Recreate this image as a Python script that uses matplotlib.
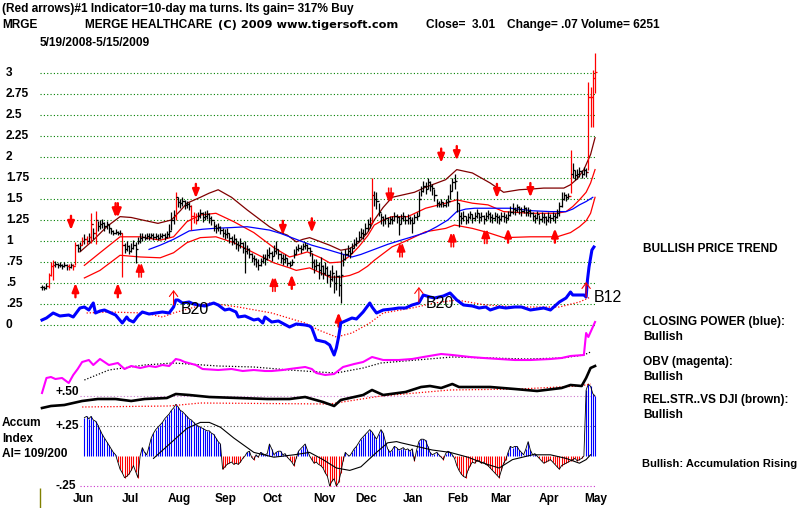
import matplotlib
matplotlib.use('Agg')
import matplotlib.pyplot as plt
import numpy as np
from matplotlib.transforms import blended_transform_factory

# ---------------- DATA ----------------
closes = [.45,.44,.47,.60,.70,.72,.73,.71,.72,.70,
          .72,.70,.69,.71,.70,.95,.92,.95,1.0,1.02,
          1.0,1.05,1.2,1.1,1.25,1.18,1.2,1.22,1.18,1.2,
          1.15,1.12,1.1,1.11,1.09,1.1,.95,.9,.94,.88,
          .92,.95,.9,1.0,1.03,1.05,1.04,1.06,1.05,1.07,
          1.05,1.06,1.04,1.06,1.07,1.05,1.08,1.12,1.25,1.3,
          1.52,1.47,1.45,1.48,1.43,1.44,1.42,1.3,1.28,1.25,
          1.3,1.33,1.28,1.3,1.32,1.27,1.25,1.18,1.15,1.17,
          1.13,1.1,1.08,1.1,1.03,1.0,1.02,.97,.95,.98,
          .92,.88,.9,.85,.8,.78,.75,.72,.76,.8,
          .78,.83,.86,.82,.88,.9,.84,.8,.78,.8,
          .74,.72,.75,.85,.9,.92,.9,.94,.95,.92,
          .88,.75,.7,.72,.66,.7,.62,.68,.6,.55,
          .62,.5,.58,.48,.6,.78,.84,.88,.86,.92,
          .97,1.0,1.05,1.1,1.08,1.15,1.2,1.22,1.55,1.5,
          1.48,1.35,1.28,1.25,1.27,1.22,1.26,1.25,1.3,1.28,
          1.2,1.27,1.3,1.25,1.27,1.25,1.22,1.28,1.3,1.5,
          1.6,1.65,1.62,1.7,1.66,1.63,1.55,1.45,1.44,1.47,
          1.43,1.46,1.48,1.6,1.7,1.72,1.45,1.3,1.27,1.3,
          1.25,1.28,1.32,1.27,1.3,1.33,1.28,1.3,1.26,1.3,
          1.32,1.29,1.27,1.3,1.28,1.26,1.3,1.29,1.27,1.31,
          1.35,1.38,1.37,1.4,1.38,1.36,1.39,1.35,1.36,1.33,
          1.3,1.27,1.32,1.26,1.29,1.28,1.25,1.29,1.27,1.3,
          1.28,1.33,1.42,1.5,1.55,1.52,1.54,1.8,1.85,1.78,
          1.8,1.83,1.8,1.84,1.82,2.72,2.71,2.94,3.01]
highs = [.48,.47,.50,.62,.75,.77,.76,.74,.75,.73,
         .75,.73,.73,.74,.73,.99,.97,.99,1.05,1.08,
         1.06,1.1,1.33,1.15,1.36,1.24,1.25,1.26,1.23,1.24,
         1.2,1.16,1.13,1.14,1.12,1.13,1.1,.98,1.0,.95,
         .98,1.01,.99,1.05,1.1,1.09,1.08,1.1,1.09,1.1,
         1.09,1.1,1.08,1.1,1.1,1.09,1.12,1.2,1.35,1.37,
         1.58,1.52,1.5,1.52,1.49,1.48,1.46,1.43,1.35,1.33,
         1.35,1.38,1.34,1.36,1.37,1.33,1.3,1.24,1.2,1.21,
         1.18,1.15,1.14,1.15,1.1,1.06,1.08,1.03,1.0,1.03,
         .99,1.0,.95,.92,.86,.83,.8,.78,.8,.85,
         .84,.9,.93,.88,.95,1.0,.9,.86,.84,.85,
         .8,.76,.78,.9,.94,.96,.95,.98,.99,.96,
         .93,.86,.78,.78,.75,.81,.72,.75,.7,.65,
         .72,.6,.66,.6,.88,.85,.9,.95,.93,.98,
         1.02,1.05,1.12,1.16,1.14,1.22,1.26,1.28,1.75,1.6,
         1.58,1.45,1.33,1.3,1.32,1.28,1.3,1.3,1.34,1.32,
         1.3,1.32,1.35,1.3,1.32,1.3,1.28,1.32,1.35,1.6,
         1.66,1.72,1.7,1.75,1.72,1.68,1.62,1.5,1.48,1.5,
         1.47,1.5,1.55,1.68,1.75,1.8,1.6,1.45,1.35,1.36,
         1.3,1.33,1.36,1.32,1.35,1.38,1.33,1.35,1.31,1.35,
         1.37,1.34,1.32,1.35,1.33,1.31,1.35,1.34,1.32,1.36,
         1.42,1.45,1.41,1.44,1.42,1.4,1.43,1.4,1.4,1.38,
         1.35,1.32,1.36,1.31,1.34,1.33,1.3,1.34,1.32,1.35,
         1.33,1.38,1.47,1.58,1.58,1.56,1.57,2.08,1.93,1.85,
         1.86,1.88,1.85,1.88,1.87,2.89,2.83,3.03,3.24]
lows = [.42,.42,.43,.44,.58,.54,.69,.68,.69,.67,
        .69,.66,.65,.68,.66,.71,.87,.88,.95,.97,
        .96,.99,.98,1.02,.97,1.12,1.14,1.16,1.12,1.14,
        1.1,1.08,1.07,1.08,1.07,1.07,.57,.86,.88,.84,
        .87,.9,.74,.96,.98,1.0,1.01,1.02,1.01,1.03,
        1.01,1.02,1.01,1.02,1.03,1.01,1.04,1.05,1.13,1.2,
        1.25,1.4,1.39,1.42,1.38,1.39,1.37,1.13,1.21,1.2,
        1.25,1.27,1.23,1.25,1.26,1.22,1.19,1.12,1.1,1.12,
        1.08,1.05,1.02,1.03,.98,.95,.96,.9,.88,.92,
        .86,.62,.84,.8,.75,.72,.69,.66,.7,.74,
        .72,.77,.8,.76,.82,.84,.78,.74,.72,.74,
        .7,.69,.71,.8,.85,.88,.86,.89,.91,.88,
        .82,.68,.62,.65,.55,.6,.55,.6,.5,.45,
        .52,.38,.42,.35,.26,.7,.77,.82,.8,.86,
        .92,.94,1.0,1.03,1.02,1.08,1.12,1.15,1.21,1.42,
        1.38,1.3,1.2,1.18,1.2,1.17,1.2,1.2,1.24,1.22,
        1.07,1.2,1.24,1.2,1.2,1.2,1.1,1.22,1.25,1.3,
        1.53,1.58,1.56,1.62,1.6,1.55,1.48,1.4,1.4,1.41,
        1.4,1.41,1.42,1.5,1.6,1.62,1.35,1.17,1.2,1.24,
        1.2,1.22,1.26,1.22,1.24,1.27,1.22,1.24,1.2,1.24,
        1.26,1.23,1.21,1.24,1.22,1.2,1.24,1.23,1.21,1.25,
        1.3,1.32,1.31,1.34,1.32,1.3,1.33,1.3,1.3,1.28,
        1.24,1.21,1.26,1.2,1.23,1.22,1.19,1.23,1.21,1.24,
        1.22,1.27,1.3,1.4,1.49,1.48,1.5,1.57,1.75,1.73,
        1.74,1.76,1.75,1.78,1.76,1.85,2.36,2.36,2.76]
red_bar_days = [3,4,5,12,14,15,18,20,22,24,36,60,67,68,69,148,237,245,246,247,248]

# bands (day, value)
brown_days = [17,20,23,29,35,40,45,52,58,62,
              65,71,75,79,85,92,97,102,106,110,
              114,117,120,125,129,134,138,142,146,149,
              153,157,162,167,172,177,181,186,193,197,
              201,207,214,220,225,230,234,237,240,243,
              246,248]
brown_vals = [.87,.94,1.01,1.17,1.29,1.28,1.25,1.21,1.25,1.36,
              1.45,1.52,1.57,1.61,1.52,1.37,1.27,1.17,1.11,1.07,
              .99,1.02,1.04,.99,.95,.89,.91,.98,1.1,1.25,
              1.4,1.52,1.55,1.58,1.64,1.69,1.73,1.85,1.81,1.75,
              1.69,1.58,1.61,1.62,1.63,1.63,1.63,1.67,1.74,1.85,
              2.03,2.23]
bandhi_days = [19,26,35,44,53,59,65,71,78,86,
               95,104,111,114,119,125,129,134,138,142,
               146,149,153,157,164,172,181,186,193,200,
               207,219,231,235,238,241,244,246,248]
bandhi_vals = [.71,.86,1.05,1.05,1.01,1.05,1.23,1.31,1.33,1.23,
               1.1,.92,.81,.83,.87,.8,.74,.75,.82,.93,
               1.06,1.19,1.25,1.29,1.29,1.39,1.45,1.49,1.45,1.43,
               1.35,1.33,1.33,1.35,1.41,1.49,1.58,1.69,1.85]
bandlo_days = [19,26,35,44,53,59,65,71,78,86,
               95,104,111,114,120,125,129,134,138,142,
               146,149,153,157,164,172,181,185,193,200,
               207,219,231,237,241,244,246,248]
bandlo_vals = [.56,.65,.83,.81,.8,.86,.98,1.04,1.05,.98,
               .86,.74,.68,.65,.68,.62,.57,.57,.59,.63,
               .7,.77,.85,.93,1.01,1.11,1.15,1.19,1.15,1.1,
               1.04,1.05,1.05,1.1,1.17,1.24,1.33,1.52]
ma_days = [48,53,59,66,72,77,85,92,97,102,
           107,111,116,121,125,129,134,139,143,146,
           150,155,161,166,172,177,182,186,190,194,
           202,210,220,228,235,238,241,244,247]
ma_vals = [.90,.95,1.02,1.12,1.14,1.15,1.16,1.17,1.15,1.13,
           1.09,1.05,1.0,.95,.92,.89,.85,.81,.84,.87,
           .91,.96,1.01,1.05,1.10,1.17,1.25,1.35,1.38,1.39,
           1.39,1.39,1.36,1.35,1.35,1.38,1.43,1.47,1.52]

sell_days = [13,33,34,69,108,121,156,179,186,204,219]
sell_tips = [1.13,1.28,1.28,1.51,1.07,1.10,1.46,1.93,1.96,1.51,1.52]
sell_double = [0,0,0,0,0,0,1,0,0,0,0]
buy_days = [15,34,44,104,112,133,161,184,199,209,230]
buy_tips = [.50,.50,.74,.57,.60,.15,.98,1.10,1.14,1.15,1.15]
buy_double = [0,0,1,1,0,0,1,1,1,0,0]

# Closing power (blue) and its MA
cp_days = [0,2,5,8,12,14,17,19,21,23,
           24,26,28,31,33,36,38,39,41,43,
           45,48,51,54,57,59,60,61,63,66,
           68,70,73,77,79,82,84,87,88,91,
           95,97,99,100,103,106,111,114,118,120,
           121,123,125,127,129,130,131,132,133,134,
           137,139,141,144,147,148,150,153,157,160,
           163,166,169,171,174,176,180,183,186,189,
           193,196,199,201,205,208,212,215,219,222,
           225,228,232,235,237,238,241,243,244,244.6,
           245.3,246.6,247.5]
cp_vals = [20,22,27,24,25,23,32,33,30,37,
           27,29,30,27,25,17,23,20,18,24,
           28,26,27,28,27,33,40,40,37,38,
           36,35,34,37,35,30,31,28,23,24,
           20,21,17,23,18,19,13,16,15,14,
           12,0,-1,-2,-5,-10,-15,-8,3,17,
           20,22,21,28,37,33,27,30,31,32,
           32,35,37,45,43,42,44,47,40,35,
           34,32,33,30,33,32,33,33,30,31,
           32,30,38,42,48,45,45,45,43,60,
           73,90,93]
cpma_days = [20,30,46,54,59,75,88,103,118,124,132,139,147,153,166,176,186,199,214,232,241,246]
cpma_vals = [27,28,27,23,27,37,33,27,17,10,3,7,17,27,32,37,40,35,33,33,38,43]
cp_sig_days = [59,169,244]
cp_sig_tips = [50,53,58]
cp_labels = ['B20','B20','B12']
cp_label_days = [62,172,247.5]
cp_label_vals = [30,37,42]

# OBV (magenta) and its MA
obv_days = [0,2,4,6,9,12,14,16,18,21,
            23,26,30,34,37,40,44,48,51,54,
            57,60,62,64,69,72,79,85,90,95,
            100,103,108,111,118,121,123,127,131,135,
            140,144,148,153,160,166,171,179,184,192,
            198,205,212,219,228,233,237,243,244,245,
            248]
obv_vals = [7,22,23,21,22,17,25,31,38,40,
            35,41,35,37,31,34,32,34,33,35,
            34,41,40,38,35,31,30,31,29,30,
            29,29,30,31,33,31,27,25,26,33,
            36,38,43,40,40,41,43,46,45,43,
            42,41,40,40,41,42,44,45,67,63,
            78]
obvma_days = [19,30,46,59,79,95,111,124,132,144,152,168,184,201,217,233,243,246]
obvma_vals = [20,30,35,37,34,33,30,28,27,32,37,40,43,42,41,42,45,48]

# Relative strength vs DJI (black) and its MA
rs_days = [0,4,10,18,25,33,40,46,56,60,66,75,88,101,111,118,126,131,134,144,148,153,163,170,174,179,184,187,201,212,222,233,237,242,244,246,248]
rs_vals = [12,14,15,19,21,21,19,21,22,26,25,23,22,21,21,23,18,14,20,25,30,25,28,33,34,32,36,33,33,31,29,32,35,34,42,52,54]
rsma_days = [18,57,71,129,152,183,214,241,246]
rsma_vals = [13,14,17,16,24,30,31,34,36]

# Accumulation index, days 19..248
ai_start = 19
ai_vals = [.32,.33,.31,.33,.30,.29,.26,.22,.18,.15,
           .12,.09,.06,.03,.01,-.05,-.11,-.14,-.18,-.17,
           -.15,-.12,-.08,-.13,-.18,0,.07,.03,.01,.08,
           .15,.19,.22,.24,.26,.28,.31,.33,.35,.38,
           .40,.43,.41,.38,.37,.35,.33,.31,.30,.28,
           .26,.25,.24,.23,.22,.21,.21,.19,.18,.15,
           .12,.10,-.11,-.09,-.07,-.06,-.05,-.07,-.06,-.07,
           -.05,-.02,0,.03,.04,-.01,-.03,.01,-.01,.03,
           .02,.01,.02,.10,.06,.01,.03,.04,.04,.01,
           .02,-.01,-.03,-.05,-.08,-.02,.04,.06,.08,.10,
           .05,0,-.03,-.06,-.05,-.07,-.08,-.10,-.14,-.17,
           -.25,-.21,-.19,-.25,-.22,-.14,-.04,.03,.01,0,
           .03,.06,.08,.11,.14,.16,.18,.2,.22,.2,
           .17,.14,.18,.22,.19,.12,.06,.03,.05,.08,
           .07,.05,.06,.07,.05,.06,.04,.06,-.04,.05,
           .12,.14,.14,.13,.08,.03,.01,.02,.03,.01,
           -.01,-.03,.02,.04,.03,.01,-.02,-.08,-.12,-.15,
           -.17,-.18,-.12,-.08,-.05,-.06,-.04,-.04,-.06,-.05,
           -.07,-.08,-.1,-.12,-.14,-.16,-.18,-.12,-.06,-.03,
           .03,.08,.07,.08,.08,.05,.03,.01,.06,.12,
           .05,.01,.02,0,-.02,-.04,-.06,-.05,-.04,-.03,
           -.05,-.07,-.09,-.11,-.08,-.07,-.06,-.05,-.04,-.03,
           -.02,-.04,-.03,-.02,0,.55,.6,.58,.52,.5]
aima_days = [50,59,65,71,75,80,86,95,104,113,120,126,132,138,143,150,155,159,161,168,175,183,191,198,205,211,220,228,235,241,244,246]
aima_vals = [-.02,.13,.23,.28,.28,.24,.15,.03,-.01,.01,.03,-.03,-.1,-.12,-.09,.03,.11,.12,.11,.08,.05,.03,-.01,-.06,-.1,-.03,.01,.01,-.02,-.06,-.03,.01]

price_levels = [0,.25,.5,.75,1,1.25,1.5,1.75,2,2.25,2.5,2.75,3]
price_labels = ['0','.25','.5','.75','1','1.25','1.5','1.75','2','2.25','2.5','2.75','3']
month_names = ['Jun','Jul','Aug','Sep','Oct','Nov','Dec','Jan','Feb','Mar','Apr','May']
month_starts = [9,30,52,73,94,117,136,157,177,196,218,239]

# ---------------- LAYOUT ----------------
W, H = 800, 508
X0, DX = 42.0, 2.23   # pixel of first bar, pixels per trading day
FONT = ['Liberation Sans', 'DejaVu Sans']
plt.rcParams['font.family'] = FONT

fig = plt.figure(figsize=(W/100, H/100), dpi=100)
fig.patch.set_facecolor('white')
XLIM = (-X0/DX, (W - X0)/DX)

def make_ax(zero_px, ppu):
    a = fig.add_axes([0, 0, 1, 1])
    a.set_xlim(*XLIM)
    a.set_ylim((zero_px - H)/ppu, zero_px/ppu)
    a.axis('off')
    a.patch.set_alpha(0)
    return a

ax = make_ax(325, 84)       # price
ax_ai = make_ax(456, 120)   # accumulation index
ax_rs = make_ax(420, 1)
ax_obv = make_ax(400, 1)
ax_cp = make_ax(340, 1)

n = len(closes)
days = np.arange(n)
first, last = -0.9, n - 1

# price grid
ax.hlines(price_levels, first, last, colors='#008000', linestyles=(0, (1, 2)), lw=0.8)

# bands
ax.plot(brown_days, brown_vals, color='#800000', lw=0.9)
ax.plot(bandhi_days, bandhi_vals, color='#ff0000', lw=0.9)
ax.plot(bandlo_days, bandlo_vals, color='#ff0000', lw=0.9)
ax.plot(ma_days, ma_vals, color='#0000ff', lw=0.9)

# price bars
cols = ['#ff0000' if d in red_bar_days else 'black' for d in days]
opens = [closes[0]] + closes[:-1]
ax.vlines(days, lows, highs, colors=cols, lw=0.9)
ax.hlines(closes, days, days + 0.75, colors=cols, lw=0.9)
ax.hlines(opens, days - 0.75, days, colors=cols, lw=0.9)

# signal arrows
ALEN = 0.17
def arrow(a, d, tip, length, lw=1.7, style='-|>,head_length=0.5,head_width=0.2', color='#ff0000'):
    a.annotate('', xy=(d, tip), xytext=(d, tip + length),
               arrowprops=dict(arrowstyle=style, color=color, lw=lw,
                               shrinkA=0, shrinkB=0), annotation_clip=False)

for d, t, dbl in zip(sell_days, sell_tips, sell_double):
    if dbl:
        for o in (-0.55, 0.55):
            arrow(ax, d + o, t, ALEN, lw=1.1, style='-|>,head_length=0.5,head_width=0.18')
    else:
        arrow(ax, d, t, ALEN)
for d, t, dbl in zip(buy_days, buy_tips, buy_double):
    if dbl:
        for o in (-0.55, 0.55):
            arrow(ax, d + o, t, -ALEN, lw=1.1, style='-|>,head_length=0.5,head_width=0.18')
    else:
        arrow(ax, d, t, -ALEN)

# closing power
ax_cp.plot(cpma_days, cpma_vals, color='#ff0000', lw=0.9, ls=(0, (1, 1.5)))
ax_cp.plot(cp_days, cp_vals, color='#0000ff', lw=2.2)
for d, t in zip(cp_sig_days, cp_sig_tips):
    arrow(ax_cp, d, t, -15, lw=0.8, style='->,head_length=0.4,head_width=0.3')
for s, d, v in zip(cp_labels, cp_label_days, cp_label_vals):
    ax_cp.text(d, v, s, fontsize=11.5, family=FONT, ha='left', va='center', color='black')

# OBV
ax_obv.plot(obvma_days, obvma_vals, color='black', lw=0.9, ls=(0, (1, 1.5)))
ax_obv.plot(obv_days, obv_vals, color='#ff00ff', lw=1.5)

# relative strength
ax_rs.plot(rsma_days, rsma_vals, color='#ff0000', lw=0.9, ls=(0, (1, 1.5)))
ax_rs.plot(rs_days, rs_vals, color='black', lw=1.9)

# accumulation index
ai_days = np.arange(ai_start, ai_start + len(ai_vals))
ax_ai.hlines([0.5], ai_start - 2, last, colors='#cc77cc', linestyles=(0, (1, 2)), lw=0.8)
ax_ai.hlines([0.25], ai_start - 2, last, colors='#555555', linestyles=(0, (1, 2)), lw=0.8)
ax_ai.hlines([-0.25], ai_start - 2, last, colors='#cc33cc', linestyles=(0, (1, 2)), lw=0.8)
ai_cols = ['#0000ff' if v >= 0 else '#ff0000' for v in ai_vals]
ax_ai.vlines(ai_days, 0, ai_vals, colors=ai_cols, lw=0.8)
ax_ai.plot(ai_days, ai_vals, color='black', lw=0.6)
ax_ai.plot(aima_days, aima_vals, color='black', lw=0.8)

# olive marker at bottom-left
axes_tr = blended_transform_factory(ax.transData, ax.transAxes)
ax.vlines([first], 0, 20/H, colors='#808000', lw=1, transform=axes_tr)

# ---------------- TEXT ----------------
def ftext(x, y, s, **kw):
    kw.setdefault('fontsize', 8.6)
    kw.setdefault('weight', 'bold')
    kw.setdefault('family', FONT)
    fig.text(x/W, 1 - y/H, s, va='center', ha=kw.pop('ha', 'left'), **kw)

ftext(2, 9, '(Red arrows)#1 Indicator=10-day ma turns. Its gain= 317% Buy')
ftext(2, 25, 'MRGE')
ftext(85, 25, 'MERGE HEALTHCARE')
ftext(218, 25, '(C) 2009 www.tigersoft.com', family=['DejaVu Sans'], fontsize=8.2)
ftext(426, 25, 'Close=  3.01')
ftext(507, 25, 'Change= .07 Volume= 6251')
ftext(40, 43, '5/19/2008-5/15/2009')

ylab_tr = blended_transform_factory(ax.transAxes, ax.transData)
for lv, lb in zip(price_levels, price_labels):
    ax.text(6/W, lv, lb, transform=ylab_tr, fontsize=8.6, weight='bold', ha='left', va='center')

ai_tr = blended_transform_factory(ax_ai.transAxes, ax_ai.transData)
for lv, lb in zip([0.53, 0.25, -0.25], ['+.50', '+.25', '-.25']):
    ax_ai.text(55/W, lv, lb, transform=ai_tr, fontsize=8.6, weight='bold', ha='left', va='center')

mon_tr = blended_transform_factory(ax.transData, ax.transAxes)
for m, d in zip(month_names, month_starts):
    ax.text(d + 9.5, 1 - 499/H, m, transform=mon_tr, fontsize=8.6, weight='bold', ha='center', va='center')

ftext(2, 423, 'Accum')
ftext(2, 439, 'Index')
ftext(2, 454, 'AI= 109/200')

ftext(643, 249, 'BULLISH PRICE TREND')
ftext(643, 322, 'CLOSING POWER (blue):')
ftext(643, 337, 'Bullish')
ftext(643, 362, 'OBV (magenta):')
ftext(643, 377, 'Bullish')
ftext(643, 400, 'REL.STR..VS DJI (brown):')
ftext(643, 415, 'Bullish')
ftext(642, 464, 'Bullish: Accumulation Rising', fontsize=8.0)

fig.savefig('out.png', dpi=100)
